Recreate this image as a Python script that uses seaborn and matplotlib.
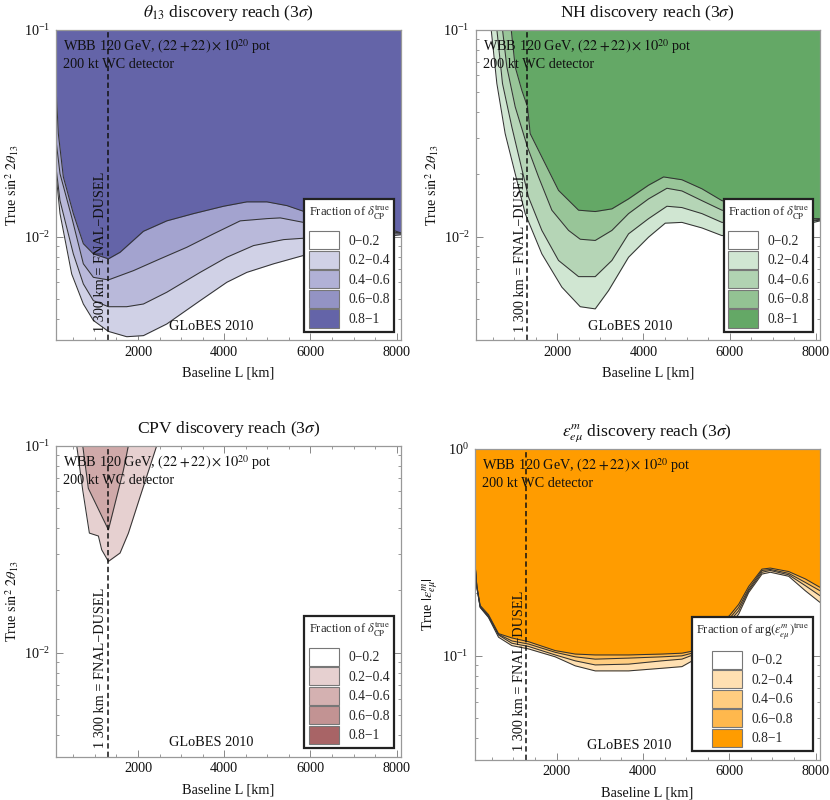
import matplotlib
matplotlib.use('Agg')
import matplotlib.pyplot as plt
from matplotlib.patches import Patch
from matplotlib.ticker import FixedLocator, NullFormatter
import seaborn as sns

# =========================================
# Values: baseline L [km] and the contour value
# theta13 reach
t13_L_02 = [100, 193, 464, 734, 967, 1315, 1740, 2127, 2669, 3442, 4061, 4525, 5145, 5840, 7930, 8100]
t13_y_02 = [0.0201, 0.0129, 0.00659, 0.00472, 0.00393, 0.00348, 0.00328, 0.00332, 0.00378, 0.0049, 0.00601, 0.00671, 0.00738, 0.0081, 0.0101, 0.0102]
t13_L_04 = [100, 193, 502, 734, 967, 1315, 1740, 2127, 2669, 3442, 4061, 4680, 5376, 5840, 7930, 8100]
t13_y_04 = [0.0216, 0.0149, 0.00824, 0.0059, 0.0049, 0.00458, 0.00458, 0.00472, 0.00538, 0.00671, 0.00794, 0.00904, 0.00966, 0.00981, 0.0103, 0.0103]
t13_L_06 = [100, 193, 464, 734, 967, 1315, 1895, 2514, 3133, 3752, 4371, 4990, 5300, 5840, 7930, 8100]
t13_y_06 = [0.0292, 0.0201, 0.0124, 0.00738, 0.00635, 0.00617, 0.00684, 0.0078, 0.00887, 0.0103, 0.0119, 0.0122, 0.0123, 0.0117, 0.0105, 0.0104]
t13_L_08 = [100, 154, 270, 502, 734, 967, 1315, 1585, 2127, 2669, 3288, 3984, 4525, 4990, 5454, 5995, 6846, 7930, 8100]
t13_y_08 = [0.0528, 0.0314, 0.0194, 0.0129, 0.00923, 0.00824, 0.0078, 0.00839, 0.0106, 0.0119, 0.0129, 0.014, 0.0147, 0.0147, 0.0141, 0.0129, 0.0117, 0.0107, 0.0104]

# mass hierarchy reach
nh_L_02 = [464, 596, 789, 1254, 1641, 2106, 2532, 2880, 3190, 3654, 4119, 4506, 4893, 5358, 5823, 7952, 8100]
nh_y_02 = [0.1, 0.0548, 0.0314, 0.0129, 0.00824, 0.00569, 0.00458, 0.00447, 0.00548, 0.00794, 0.00993, 0.0116, 0.0117, 0.011, 0.0101, 0.0117, 0.0119]
nh_L_04 = [596, 727, 944, 1331, 1641, 2028, 2493, 2880, 3267, 3654, 4119, 4545, 4893, 5358, 5823, 7952, 8100]
nh_y_04 = [0.1, 0.0548, 0.0338, 0.0155, 0.0107, 0.00766, 0.0064, 0.0064, 0.00766, 0.0103, 0.0122, 0.014, 0.0138, 0.0129, 0.0117, 0.0119, 0.012]
nh_L_06 = [727, 828, 1022, 1308, 1564, 1873, 2261, 2532, 2880, 3267, 3654, 4119, 4545, 4893, 5358, 5823, 7952, 8100]
nh_y_06 = [0.1, 0.0659, 0.0423, 0.027, 0.0194, 0.0134, 0.0107, 0.0097, 0.00957, 0.0107, 0.0129, 0.0152, 0.0171, 0.0166, 0.0149, 0.0134, 0.012, 0.0121]
nh_L_08 = [929, 1022, 1176, 1308, 1370, 1641, 2028, 2493, 2880, 3267, 3654, 4119, 4467, 4893, 5358, 5823, 7952, 8100]
nh_y_08 = [0.1, 0.0659, 0.0508, 0.0423, 0.0314, 0.0242, 0.0167, 0.0134, 0.0132, 0.0136, 0.0152, 0.0177, 0.0194, 0.0188, 0.017, 0.0149, 0.0122, 0.0122]

# CP violation reach
cpv_L_02 = [580, 719, 874, 1083, 1160, 1315, 1585, 1779, 2050, 2437]
cpv_y_02 = [0.1, 0.061, 0.0378, 0.0366, 0.0314, 0.0276, 0.0303, 0.0378, 0.0566, 0.1]
cpv_L_04 = [719, 850, 1315, 1663, 1779]
cpv_y_04 = [0.1, 0.0621, 0.0392, 0.076, 0.1]

# epsilon_emu reach
eps_L = [100, 154, 231, 424, 656, 965, 1351, 1969, 2432, 2895, 3668, 4440, 4903, 5212, 6023, 6216, 6448, 6757, 6950, 7374, 7760, 8100]
eps_y_02 = [0.299, 0.214, 0.171, 0.153, 0.123, 0.112, 0.108, 0.0989, 0.0895, 0.0846, 0.0846, 0.0871, 0.0887, 0.0964, 0.142, 0.159, 0.202, 0.248, 0.253, 0.242, 0.206, 0.181]
eps_y_04 = [0.299, 0.214, 0.172, 0.154, 0.126, 0.115, 0.111, 0.101, 0.0946, 0.0904, 0.0912, 0.0946, 0.0964, 0.102, 0.148, 0.165, 0.206, 0.253, 0.258, 0.246, 0.218, 0.195]
eps_y_06 = [0.299, 0.216, 0.173, 0.156, 0.127, 0.118, 0.114, 0.104, 0.0989, 0.0964, 0.0975, 0.0989, 0.1, 0.104, 0.153, 0.171, 0.21, 0.258, 0.261, 0.25, 0.226, 0.206]
eps_y_08 = [0.299, 0.218, 0.175, 0.158, 0.128, 0.122, 0.117, 0.106, 0.102, 0.101, 0.101, 0.102, 0.103, 0.106, 0.158, 0.177, 0.216, 0.262, 0.265, 0.255, 0.235, 0.214]

band_labels = ['0\u22120.2', '0.2\u22120.4', '0.4\u22120.6', '0.6\u22120.8', '0.8\u22121']
# legend swatches
blue = ['#ffffff', '#d0d1e6', '#b1b1d6', '#9393c4', '#6464a8']
green = ['#ffffff', '#d0e6d2', '#b1d3b2', '#93c293', '#64a866']
red = ['#ffffff', '#e6d0d0', '#d4b1b1', '#c29393', '#a86466']
orange = ['#ffffff', '#ffe0b2', '#ffcd80', '#ffb84d', '#ff9c00']
# the bands on the plot come out a bit paler than the swatches
blue_fill = ['#d0d1e6', '#b9b9da', '#a3a3cf', '#6464a8']
green_fill = ['#d0e6d2', '#b5d5b6', '#98c598', '#64a866']
red_fill = ['#e6d0d0', '#cfa9a9']
orange_fill = ['#ffe0b2', '#ffcd80', '#ffb84d', '#ff9c00']

sns.set_theme(style='ticks')
plt.rcParams['font.family'] = ['Liberation Serif', 'DejaVu Serif']
plt.rcParams['mathtext.fontset'] = 'stix'
plt.rcParams['axes.unicode_minus'] = True

W, H = 830, 800
TXT = 10.3
fig = plt.figure(figsize=(W / 100, H / 100), dpi=100)


def draw_panel(box, title, ylabel, curves, colors, fills, ylim, yticks, legend_title):
    left, top, right, bottom = box
    ax = fig.add_axes([left / W, 1 - bottom / H, (right - left) / W, (bottom - top) / H])
    ax.set_yscale('log')
    ax.set_xlim(100, 8100)
    ax.set_ylim(*ylim)

    # filled bands, lowest fraction first
    for (L, y), col in zip(curves, fills):
        ax.fill_between(L, y, ylim[1], color=col, linewidth=0, zorder=1)
    for L, y in curves:
        sns.lineplot(x=L, y=y, ax=ax, color='#333333', linewidth=0.75,
                     estimator=None, sort=False, zorder=2)

    ax.axvline(1300, color='#111111', linewidth=1.1, linestyle=(0, (3.5, 2)), zorder=3)

    ax.text(0.021, 0.944, r'WBB 120 GeV, $(22 + 22) \times 10^{20}$ pot', transform=ax.transAxes,
            fontsize=TXT, va='center', ha='left', color='#111111', zorder=4)
    ax.text(0.021, 0.887, '200 kt WC detector', transform=ax.transAxes,
            fontsize=TXT, va='center', ha='left', color='#111111', zorder=4)
    ax.text(0.449, 0.045, 'GLoBES 2010', transform=ax.transAxes,
            fontsize=TXT, va='center', ha='center', color='#111111', zorder=4)
    ax.text(0.13, 0.027, '1 300 km = FNAL\u2212DUSEL', transform=ax.transAxes, rotation=90,
            fontsize=TXT, va='bottom', ha='center', color='#111111', zorder=4)

    ax.set_title(title, fontsize=12.6, pad=9, color='#111111')
    ax.set_xlabel('Baseline L [km]', fontsize=TXT, labelpad=6, color='#111111')
    ax.set_ylabel(ylabel, fontsize=TXT, color='#111111')
    ax.yaxis.set_label_coords(-0.1, 0.5)

    ax.set_xticks([2000, 4000, 6000, 8000])
    ax.xaxis.set_minor_locator(FixedLocator(range(500, 8100, 500)))
    ax.set_yticks(yticks)
    ax.yaxis.set_minor_formatter(NullFormatter())
    ax.tick_params(axis='both', which='major', direction='in', top=True, right=True,
                   length=5, width=0.7, color='#888888', labelsize=10.3, labelcolor='#111111', pad=4)
    ax.tick_params(axis='both', which='minor', direction='in', top=True, right=True,
                   length=2.5, width=0.6, color='#888888')
    for side in ax.spines.values():
        side.set_color('#999999')
        side.set_linewidth(0.9)
        side.set_zorder(5)

    handles = [Patch(facecolor=c, edgecolor='#777777', linewidth=0.8, label=lab)
               for c, lab in zip(colors, band_labels)]
    leg = ax.legend(handles=handles, title=legend_title, loc='lower right',
                    bbox_to_anchor=(0.979, 0.027), borderaxespad=0, frameon=True, fancybox=False,
                    framealpha=1, edgecolor='#222222', fontsize=9.8, title_fontsize=9.0,
                    handlelength=2.2, handleheight=1.68, labelspacing=0.1, handletextpad=0.7,
                    borderpad=0.3)
    leg.get_frame().set_linewidth(1.6)
    leg.set_zorder(6)
    leg._legend_box.sep = 7
    return ax


dcp_title = r'Fraction of $\delta_{\mathrm{CP}}^{\mathrm{true}}$'
arg_title = r'Fraction of arg$(\epsilon_{e\mu}^{m})^{\mathrm{true}}$'
s22 = r'True $\sin^2\,2\theta_{13}$'

draw_panel((56, 29.5, 401, 340), r'$\theta_{13}$ discovery reach (3$\sigma$)', s22,
           [(t13_L_02, t13_y_02), (t13_L_04, t13_y_04), (t13_L_06, t13_y_06), (t13_L_08, t13_y_08)],
           blue, blue_fill, (10**-2.5, 0.1), [0.01, 0.1], dcp_title)
draw_panel((475.5, 29.5, 820, 340), r'NH discovery reach (3$\sigma$)', s22,
           [(nh_L_02, nh_y_02), (nh_L_04, nh_y_04), (nh_L_06, nh_y_06), (nh_L_08, nh_y_08)],
           green, green_fill, (10**-2.5, 0.1), [0.01, 0.1], dcp_title)
draw_panel((56, 445.5, 401, 756.5), r'CPV discovery reach (3$\sigma$)', s22,
           [(cpv_L_02, cpv_y_02), (cpv_L_04, cpv_y_04)],
           red, red_fill, (10**-2.5, 0.1), [0.01, 0.1], dcp_title)
draw_panel((474.5, 448.5, 820, 759.5), r'$\epsilon_{e\mu}^{m}$ discovery reach (3$\sigma$)',
           r'True $|\epsilon_{e\mu}^{m}|$',
           [(eps_L, eps_y_02), (eps_L, eps_y_04), (eps_L, eps_y_06), (eps_L, eps_y_08)],
           orange, orange_fill, (10**-1.5, 1), [0.1, 1], arg_title)

fig.savefig('out.png', dpi=100)
